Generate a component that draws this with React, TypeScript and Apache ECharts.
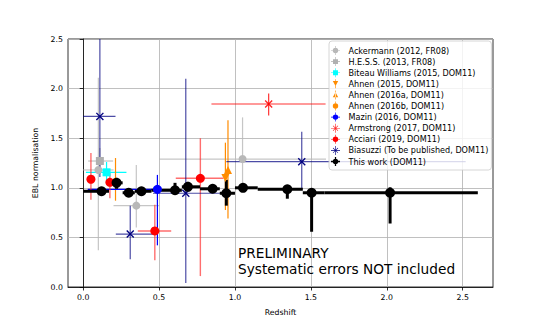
import React, { useEffect, useRef } from "react";
import * as echarts from "echarts";

// Each row: [x, y, xlo, xhi, ylo, yhi]
const ackermann = [
  [0.10, 1.18, 0.0, 0.2, 0.37, 2.11],
  [0.35, 0.82, 0.2, 0.5, 0.60, 1.23],
  [1.05, 1.29, 0.5, 1.6, 0.97, 1.71],
];
const hess = [[0.11, 1.27, 0.033, 0.197, 1.14, 1.40]];
const biteau = [[0.154, 1.156, 0.018, 0.285, 1.06, 1.26]];
const ahnen2015 = [[0.937, 1.10, 0.937, 0.937, 0.776, 1.455]];
const ahnen2016a = [[0.954, 1.18, 0.954, 0.954, 0.69, 1.68]];
const ahnen2016b = [[0.213, 1.06, 0.213, 0.213, 0.87, 1.30]];
const mazin = [[0.489, 0.985, 0.03, 0.489, 0.42, 1.13]];
const armstrong = [[1.222, 1.845, 0.845, 1.597, 1.73, 1.95]];
const acciari = [
  [0.051, 1.086, 0.051, 0.051, 0.88, 1.35],
  [0.176, 1.055, 0.176, 0.176, 0.894, 1.146],
  [0.472, 0.565, 0.36, 0.58, 0.27, 0.83],
  [0.772, 1.096, 0.61, 0.925, 0.11, 1.5],
];
const biasuzzi = [
  [0.11, 1.72, 0.0, 0.213, 1.11, 2.6],
  [0.31, 0.534, 0.215, 0.46, 0.28, 0.82],
  [0.676, 0.945, 0.46, 0.943, 0.04, 2.10],
  [1.44, 1.263, 0.943, 2.52, 0.985, 1.566],
];
const thisWork = [
  [0.121, 0.965, 0.0, 0.17, 0.94, 0.99],
  [0.22, 1.05, 0.17, 0.26, 0.99, 1.10],
  [0.30, 0.95, 0.26, 0.34, 0.91, 0.99],
  [0.384, 0.965, 0.34, 0.45, 0.94, 0.99],
  [0.605, 0.975, 0.45, 0.65, 0.94, 1.05],
  [0.69, 1.01, 0.65, 0.77, 0.97, 1.06],
  [0.853, 0.99, 0.77, 0.9, 0.95, 1.03],
  [0.943, 0.945, 0.9, 1.0, 0.82, 1.08],
  [1.053, 1.0, 1.0, 1.15, 0.97, 1.03],
  [1.345, 0.985, 1.15, 1.447, 0.89, 1.02],
  [1.505, 0.95, 1.447, 1.59, 0.557, 0.99],
  [2.022, 0.95, 1.59, 2.6, 0.64, 1.005],
];

const xTicks = [0, 0.5, 1.0, 1.5, 2.0, 2.5];
const yTicks = [0, 0.5, 1.0, 1.5, 2.0, 2.5];

const FONT = "DejaVu Sans";

const xMark = "path://M0,1.2L1.2,0L10,8.8L8.8,10Z M8.8,0L10,1.2L1.2,10L0,8.8Z";
const downTri = "path://M0,0L10,0L5,9Z";

// legend icons (20x20 boxes)
const crossH = "M0,9.3H20V10.7H0Z M9.3,0H10.7V20H9.3Z";
const vertOnly = "M9.3,0H10.7V20H9.3Z";
const circ = "M4,10A6,6 0 1 1 16,10A6,6 0 1 1 4,10Z";
const icons = {
  circleCross: "path://" + crossH + " " + circ,
  squareCross: "path://" + crossH + " M4.5,4.5H15.5V15.5H4.5Z",
  downTriV: "path://" + vertOnly + " M4,4H16L10,15Z",
  upTriV: "path://" + vertOnly + " M4,15H16L10,4Z",
  circleV: "path://" + vertOnly + " " + circ,
  star: "path://" + crossH + " M4,5L5,4L16,15L15,16Z M15,4L16,5L5,16L4,15Z",
  thick: "path://M0,8.6H20V11.4H0Z M8.6,0H11.4V20H8.6Z " + circ,
};

function errSeries(name: string, data: number[][], color: string, lw: number, opacity: number) {
  return {
    type: "custom",
    name: name + " err",
    clip: true,
    silent: true,
    data,
    encode: { x: [0, 2, 3], y: [1, 4, 5] },
    renderItem: (params: any, api: any) => {
      const x = api.value(0);
      const y = api.value(1);
      const xlo = api.value(2);
      const xhi = api.value(3);
      const ylo = api.value(4);
      const yhi = api.value(5);
      const children: any[] = [];
      const style = { stroke: color, lineWidth: lw, opacity };
      if (xhi > xlo) {
        const a = api.coord([xlo, y]);
        const b = api.coord([xhi, y]);
        children.push({ type: "line", shape: { x1: a[0], y1: a[1], x2: b[0], y2: b[1] }, style });
      }
      if (yhi > ylo) {
        const a = api.coord([x, ylo]);
        const b = api.coord([x, yhi]);
        children.push({ type: "line", shape: { x1: a[0], y1: a[1], x2: b[0], y2: b[1] }, style });
      }
      return { type: "group", children };
    },
  };
}

function ptSeries(name: string, data: number[][], color: string, symbol: string, size: number, opacity = 1) {
  return {
    type: "scatter",
    name,
    data: data.map((d) => [d[0], d[1]]),
    symbol,
    symbolSize: size,
    clip: true,
    silent: true,
    itemStyle: { color, opacity },
  };
}

export default function App() {
  const ref = useRef<HTMLDivElement>(null);
  useEffect(() => {
    document.body.style.margin = "0";
    const chart = echarts.init(ref.current!, null, { renderer: "svg" });
    const series: any[] = [
      errSeries("ack", ackermann, "#b8b8b8", 1.2, 0.8),
      ptSeries("Ackermann (2012, FR08)", ackermann, "#b8b8b8", "circle", 8),
      errSeries("hess", hess, "#b0b0b0", 1.2, 0.8),
      ptSeries("H.E.S.S. (2013, FR08)", hess, "#b0b0b0", "rect", 8),
      errSeries("biteau", biteau, "#00ffff", 1.2, 1),
      ptSeries("Biteau Williams (2015, DOM11)", biteau, "#00ffff", "rect", 8),
      errSeries("a15", ahnen2015, "#ff8c00", 1.2, 1),
      ptSeries("Ahnen (2015, DOM11)", ahnen2015, "#ff8c00", downTri, 8),
      errSeries("a16a", ahnen2016a, "#ff8c00", 1.2, 1),
      ptSeries("Ahnen (2016a, DOM11)", ahnen2016a, "#ff8c00", "triangle", 8),
      errSeries("a16b", ahnen2016b, "#ff8c00", 1.2, 1),
      ptSeries("Ahnen (2016b, DOM11)", ahnen2016b, "#ff8c00", "circle", 8),
      errSeries("mazin", mazin, "#0000ff", 1.2, 1),
      ptSeries("Mazin (2016, DOM11)", mazin, "#0000ff", "circle", 9),
      errSeries("arm", armstrong, "#ff0000", 1.2, 0.8),
      ptSeries("Armstrong (2017, DOM11)", armstrong, "#ff0000", xMark, 8, 0.85),
      errSeries("acc", acciari, "#ff3030", 1.4, 0.7),
      ptSeries("Acciari (2019, DOM11)", acciari, "#ff0000", "circle", 9),
      errSeries("bia", biasuzzi, "#000080", 1.2, 0.7),
      ptSeries("Biasuzzi (To be published, DOM11)", biasuzzi, "#000080", xMark, 8),
      errSeries("tw", thisWork, "#000000", 3, 1),
      ptSeries("This work (DOM11)", thisWork, "#000000", "circle", 10),
    ];
    const legendData = [
      { name: "Ackermann (2012, FR08)", icon: icons.circleCross },
      { name: "H.E.S.S. (2013, FR08)", icon: icons.squareCross },
      { name: "Biteau Williams (2015, DOM11)", icon: icons.squareCross },
      { name: "Ahnen (2015, DOM11)", icon: icons.downTriV },
      { name: "Ahnen (2016a, DOM11)", icon: icons.upTriV },
      { name: "Ahnen (2016b, DOM11)", icon: icons.circleV },
      { name: "Mazin (2016, DOM11)", icon: icons.circleCross },
      { name: "Armstrong (2017, DOM11)", icon: icons.star },
      { name: "Acciari (2019, DOM11)", icon: icons.circleCross },
      { name: "Biasuzzi (To be published, DOM11)", icon: icons.star },
      { name: "This work (DOM11)", icon: icons.thick },
    ];
    chart.setOption({
      animation: false,
      backgroundColor: "#ffffff",
      textStyle: { fontFamily: FONT },
      grid: {
        left: 68, right: 55, top: 39, bottom: 42,
        show: true, borderColor: "#000", borderWidth: 0.8, backgroundColor: "transparent",
      },
      legend: {
        orient: "vertical",
        left: 329,
        top: 41,
        padding: [5, 3, 4, 2],
        itemWidth: 16,
        itemHeight: 9,
        itemGap: 2.1,
        backgroundColor: "rgba(255,255,255,0.8)",
        borderColor: "#cccccc",
        borderWidth: 0.8,
        borderRadius: 3,
        selectedMode: false,
        textStyle: { fontFamily: FONT, fontSize: 8.1, lineHeight: 9, color: "#000", padding: [0, 0, 0, 0] },
        data: legendData,
      },
      xAxis: {
        type: "value",
        min: -0.1,
        max: 2.7,
        name: "Redshift",
        nameLocation: "middle",
        nameGap: 21,
        nameTextStyle: { fontFamily: FONT, fontSize: 7.8, color: "#000" },
        axisLine: { show: true, lineStyle: { color: "#000", width: 0.8 } },
        axisTick: { show: true, inside: false, length: 3.5, lineStyle: { color: "#000", width: 0.8 }, customValues: xTicks },
        axisLabel: {
          fontFamily: FONT, fontSize: 7.8, color: "#000", margin: 6,
          customValues: xTicks,
          formatter: (v: number) => v.toFixed(1),
        },
        splitLine: { show: true, lineStyle: { color: "#b0b0b0", width: 0.8 } },
      },
      yAxis: {
        type: "value",
        min: 0,
        max: 2.5,
        interval: 0.5,
        name: "EBL normalisation",
        nameLocation: "middle",
        nameGap: 21,
        nameRotate: 90,
        nameTextStyle: { fontFamily: FONT, fontSize: 7.8, color: "#000" },
        axisLine: { show: true, lineStyle: { color: "#000", width: 0.8 } },
        axisTick: { show: true, inside: false, length: 3.5, lineStyle: { color: "#000", width: 0.8 } },
        axisLabel: {
          fontFamily: FONT, fontSize: 7.8, color: "#000", margin: 5,
          formatter: (v: number) => v.toFixed(1),
          customValues: yTicks,
        },
        splitLine: { show: true, lineStyle: { color: "#b0b0b0", width: 0.8 } },
      },
      graphic: [
        {
          type: "text",
          left: 238,
          top: 245,
          z: 10,
          style: {
            text: "PRELIMINARY\nSystematic errors NOT included",
            fontFamily: FONT,
            fontSize: 13.7,
            lineHeight: 16,
            fill: "#000",
          },
        },
      ],
      series,
    });
    return () => chart.dispose();
  }, []);
  return <div ref={ref} style={{ position: "fixed", left: 0, top: 0, width: 548, height: 329 }} />;
}
